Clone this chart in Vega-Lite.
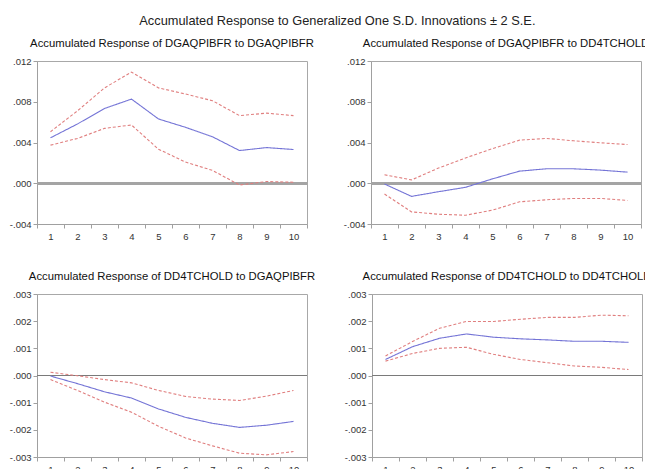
{
  "$schema": "https://vega.github.io/schema/vega-lite/v6.json",
  "padding": {"left": 8, "top": 15, "right": 0, "bottom": 0},
  "background": "white",
  "title": {
    "text": "Accumulated Response to Generalized One S.D. Innovations ± 2 S.E.",
    "fontSize": 12.8,
    "fontWeight": "normal",
    "font": "Liberation Sans",
    "color": "#222",
    "anchor": "middle",
    "dx": 7,
    "offset": 9
  },
  "config": {
    "font": "Liberation Sans",
    "view": {"stroke": "#a8a8a8", "strokeWidth": 1},
    "title": {"fontSize": 11.3, "fontWeight": "normal", "color": "#111", "offset": 7, "font": "Liberation Sans"},
    "axis": {
      "labelFont": "Liberation Sans",
      "labelFontSize": 9.5,
      "labelColor": "#333",
      "labelOverlap": false,
      "domainColor": "#a0a0a0",
      "tickColor": "#a0a0a0",
      "tickSize": 4,
      "tickCount": 12,
      "grid": false,
      "title": null
    }
  },
  "datasets": {
    "irf": [
      {"panel": 1, "step": 1, "band": "resp", "value": 0.00446},
      {"panel": 1, "step": 2, "band": "resp", "value": 0.00582},
      {"panel": 1, "step": 3, "band": "resp", "value": 0.00734},
      {"panel": 1, "step": 4, "band": "resp", "value": 0.00826},
      {"panel": 1, "step": 5, "band": "resp", "value": 0.00631},
      {"panel": 1, "step": 6, "band": "resp", "value": 0.00549},
      {"panel": 1, "step": 7, "band": "resp", "value": 0.00456},
      {"panel": 1, "step": 8, "band": "resp", "value": 0.00321},
      {"panel": 1, "step": 9, "band": "resp", "value": 0.00350},
      {"panel": 1, "step": 10, "band": "resp", "value": 0.00331},
      {"panel": 1, "step": 1, "band": "upper", "value": 0.00506},
      {"panel": 1, "step": 2, "band": "upper", "value": 0.00711},
      {"panel": 1, "step": 3, "band": "upper", "value": 0.00936},
      {"panel": 1, "step": 4, "band": "upper", "value": 0.01091},
      {"panel": 1, "step": 5, "band": "upper", "value": 0.00936},
      {"panel": 1, "step": 6, "band": "upper", "value": 0.00876},
      {"panel": 1, "step": 7, "band": "upper", "value": 0.00810},
      {"panel": 1, "step": 8, "band": "upper", "value": 0.00664},
      {"panel": 1, "step": 9, "band": "upper", "value": 0.00688},
      {"panel": 1, "step": 10, "band": "upper", "value": 0.00664},
      {"panel": 1, "step": 1, "band": "lower", "value": 0.00374},
      {"panel": 1, "step": 2, "band": "lower", "value": 0.00440},
      {"panel": 1, "step": 3, "band": "lower", "value": 0.00539},
      {"panel": 1, "step": 4, "band": "lower", "value": 0.00572},
      {"panel": 1, "step": 5, "band": "lower", "value": 0.00334},
      {"panel": 1, "step": 6, "band": "lower", "value": 0.00208},
      {"panel": 1, "step": 7, "band": "lower", "value": 0.00126},
      {"panel": 1, "step": 8, "band": "lower", "value": -0.00017},
      {"panel": 1, "step": 9, "band": "lower", "value": 0.00017},
      {"panel": 1, "step": 10, "band": "lower", "value": 0.00010},

      {"panel": 2, "step": 1, "band": "resp", "value": -0.00007},
      {"panel": 2, "step": 2, "band": "resp", "value": -0.00129},
      {"panel": 2, "step": 3, "band": "resp", "value": -0.00083},
      {"panel": 2, "step": 4, "band": "resp", "value": -0.00040},
      {"panel": 2, "step": 5, "band": "resp", "value": 0.00043},
      {"panel": 2, "step": 6, "band": "resp", "value": 0.00119},
      {"panel": 2, "step": 7, "band": "resp", "value": 0.00142},
      {"panel": 2, "step": 8, "band": "resp", "value": 0.00142},
      {"panel": 2, "step": 9, "band": "resp", "value": 0.00129},
      {"panel": 2, "step": 10, "band": "resp", "value": 0.00109},
      {"panel": 2, "step": 1, "band": "upper", "value": 0.00083},
      {"panel": 2, "step": 2, "band": "upper", "value": 0.00033},
      {"panel": 2, "step": 3, "band": "upper", "value": 0.00149},
      {"panel": 2, "step": 4, "band": "upper", "value": 0.00248},
      {"panel": 2, "step": 5, "band": "upper", "value": 0.00340},
      {"panel": 2, "step": 6, "band": "upper", "value": 0.00423},
      {"panel": 2, "step": 7, "band": "upper", "value": 0.00440},
      {"panel": 2, "step": 8, "band": "upper", "value": 0.00417},
      {"panel": 2, "step": 9, "band": "upper", "value": 0.00397},
      {"panel": 2, "step": 10, "band": "upper", "value": 0.00380},
      {"panel": 2, "step": 1, "band": "lower", "value": -0.00106},
      {"panel": 2, "step": 2, "band": "lower", "value": -0.00281},
      {"panel": 2, "step": 3, "band": "lower", "value": -0.00304},
      {"panel": 2, "step": 4, "band": "lower", "value": -0.00314},
      {"panel": 2, "step": 5, "band": "lower", "value": -0.00264},
      {"panel": 2, "step": 6, "band": "lower", "value": -0.00182},
      {"panel": 2, "step": 7, "band": "lower", "value": -0.00162},
      {"panel": 2, "step": 8, "band": "lower", "value": -0.00149},
      {"panel": 2, "step": 9, "band": "lower", "value": -0.00149},
      {"panel": 2, "step": 10, "band": "lower", "value": -0.00169},

      {"panel": 3, "step": 1, "band": "resp", "value": -0.00002},
      {"panel": 3, "step": 2, "band": "resp", "value": -0.00030},
      {"panel": 3, "step": 3, "band": "resp", "value": -0.00060},
      {"panel": 3, "step": 4, "band": "resp", "value": -0.00083},
      {"panel": 3, "step": 5, "band": "resp", "value": -0.00123},
      {"panel": 3, "step": 6, "band": "resp", "value": -0.00154},
      {"panel": 3, "step": 7, "band": "resp", "value": -0.00176},
      {"panel": 3, "step": 8, "band": "resp", "value": -0.00191},
      {"panel": 3, "step": 9, "band": "resp", "value": -0.00183},
      {"panel": 3, "step": 10, "band": "resp", "value": -0.00169},
      {"panel": 3, "step": 1, "band": "upper", "value": 0.00012},
      {"panel": 3, "step": 2, "band": "upper", "value": -0.00001},
      {"panel": 3, "step": 3, "band": "upper", "value": -0.00015},
      {"panel": 3, "step": 4, "band": "upper", "value": -0.00027},
      {"panel": 3, "step": 5, "band": "upper", "value": -0.00055},
      {"panel": 3, "step": 6, "band": "upper", "value": -0.00077},
      {"panel": 3, "step": 7, "band": "upper", "value": -0.00087},
      {"panel": 3, "step": 8, "band": "upper", "value": -0.00092},
      {"panel": 3, "step": 9, "band": "upper", "value": -0.00076},
      {"panel": 3, "step": 10, "band": "upper", "value": -0.00055},
      {"panel": 3, "step": 1, "band": "lower", "value": -0.00015},
      {"panel": 3, "step": 2, "band": "lower", "value": -0.00055},
      {"panel": 3, "step": 3, "band": "lower", "value": -0.00098},
      {"panel": 3, "step": 4, "band": "lower", "value": -0.00135},
      {"panel": 3, "step": 5, "band": "lower", "value": -0.00187},
      {"panel": 3, "step": 6, "band": "lower", "value": -0.00230},
      {"panel": 3, "step": 7, "band": "lower", "value": -0.00259},
      {"panel": 3, "step": 8, "band": "lower", "value": -0.00286},
      {"panel": 3, "step": 9, "band": "lower", "value": -0.00292},
      {"panel": 3, "step": 10, "band": "lower", "value": -0.00280},

      {"panel": 4, "step": 1, "band": "resp", "value": 0.00059},
      {"panel": 4, "step": 2, "band": "resp", "value": 0.00106},
      {"panel": 4, "step": 3, "band": "resp", "value": 0.00137},
      {"panel": 4, "step": 4, "band": "resp", "value": 0.00153},
      {"panel": 4, "step": 5, "band": "resp", "value": 0.00141},
      {"panel": 4, "step": 6, "band": "resp", "value": 0.00135},
      {"panel": 4, "step": 7, "band": "resp", "value": 0.00131},
      {"panel": 4, "step": 8, "band": "resp", "value": 0.00126},
      {"panel": 4, "step": 9, "band": "resp", "value": 0.00126},
      {"panel": 4, "step": 10, "band": "resp", "value": 0.00122},
      {"panel": 4, "step": 1, "band": "upper", "value": 0.00072},
      {"panel": 4, "step": 2, "band": "upper", "value": 0.00125},
      {"panel": 4, "step": 3, "band": "upper", "value": 0.00174},
      {"panel": 4, "step": 4, "band": "upper", "value": 0.00199},
      {"panel": 4, "step": 5, "band": "upper", "value": 0.00199},
      {"panel": 4, "step": 6, "band": "upper", "value": 0.00207},
      {"panel": 4, "step": 7, "band": "upper", "value": 0.00214},
      {"panel": 4, "step": 8, "band": "upper", "value": 0.00214},
      {"panel": 4, "step": 9, "band": "upper", "value": 0.00222},
      {"panel": 4, "step": 10, "band": "upper", "value": 0.00220},
      {"panel": 4, "step": 1, "band": "lower", "value": 0.00053},
      {"panel": 4, "step": 2, "band": "lower", "value": 0.00081},
      {"panel": 4, "step": 3, "band": "lower", "value": 0.00100},
      {"panel": 4, "step": 4, "band": "lower", "value": 0.00104},
      {"panel": 4, "step": 5, "band": "lower", "value": 0.00078},
      {"panel": 4, "step": 6, "band": "lower", "value": 0.00059},
      {"panel": 4, "step": 7, "band": "lower", "value": 0.00047},
      {"panel": 4, "step": 8, "band": "lower", "value": 0.00035},
      {"panel": 4, "step": 9, "band": "lower", "value": 0.00030},
      {"panel": 4, "step": 10, "band": "lower", "value": 0.00022}
    ]
  },
  "spacing": 29,
  "vconcat": [
    {
      "spacing": 27,
      "hconcat": [
        {
          "title": "Accumulated Response of DGAQPIBFR to DGAQPIBFR",
          "width": 270, "height": 163,
          "data": {"name": "irf"},
          "transform": [{"filter": "datum.panel == 1"}],
          "layer": [
            {"mark": {"type": "rule", "color": "#a4a4a4", "strokeWidth": 1.8}, "encoding": {"y": {"datum": 0, "type": "quantitative"}}},
            {"mark": {"type": "line", "strokeWidth": 1.1},
             "encoding": {
               "x": {"field": "step", "type": "ordinal", "scale": {"type": "band", "paddingInner": 0, "paddingOuter": 0}, "axis": {"labelAngle": 0, "tickBand": "extent", "labelPadding": 3}},
               "y": {"field": "value", "type": "quantitative", "scale": {"domain": [-0.004, 0.012], "nice": false, "zero": false}, "axis": {"values": [-0.004, 0, 0.004, 0.008, 0.012], "labelExpr": "replace(replace(format(datum.value, '.3f'), '0.', '.'), '\u2212', '-')"}},
               "detail": {"field": "band"},
               "color": {"field": "band", "scale": {"domain": ["resp", "upper", "lower"], "range": ["#7474d6", "#e07f7f", "#e07f7f"]}, "legend": null},
               "strokeDash": {"field": "band", "scale": {"domain": ["resp", "upper", "lower"], "range": [[1, 0], [3, 2], [3, 2]]}, "legend": null}
             }}
          ]
        },
        {
          "title": "Accumulated Response of DGAQPIBFR to DD4TCHOLD",
          "width": 270, "height": 163,
          "data": {"name": "irf"},
          "transform": [{"filter": "datum.panel == 2"}],
          "layer": [
            {"mark": {"type": "rule", "color": "#a4a4a4", "strokeWidth": 1.8}, "encoding": {"y": {"datum": 0, "type": "quantitative"}}},
            {"mark": {"type": "line", "strokeWidth": 1.1},
             "encoding": {
               "x": {"field": "step", "type": "ordinal", "scale": {"type": "band", "paddingInner": 0, "paddingOuter": 0}, "axis": {"labelAngle": 0, "tickBand": "extent", "labelPadding": 3}},
               "y": {"field": "value", "type": "quantitative", "scale": {"domain": [-0.004, 0.012], "nice": false, "zero": false}, "axis": {"values": [-0.004, 0, 0.004, 0.008, 0.012], "labelExpr": "replace(replace(format(datum.value, '.3f'), '0.', '.'), '\u2212', '-')"}},
               "detail": {"field": "band"},
               "color": {"field": "band", "scale": {"domain": ["resp", "upper", "lower"], "range": ["#7474d6", "#e07f7f", "#e07f7f"]}, "legend": null},
               "strokeDash": {"field": "band", "scale": {"domain": ["resp", "upper", "lower"], "range": [[1, 0], [3, 2], [3, 2]]}, "legend": null}
             }}
          ]
        }
      ]
    },
    {
      "spacing": 27,
      "hconcat": [
        {
          "title": "Accumulated Response of DD4TCHOLD to DGAQPIBFR",
          "width": 270, "height": 163,
          "data": {"name": "irf"},
          "transform": [{"filter": "datum.panel == 3"}],
          "layer": [
            {"mark": {"type": "rule", "color": "#7a7a7a", "strokeWidth": 1}, "encoding": {"y": {"datum": 0, "type": "quantitative"}}},
            {"mark": {"type": "line", "strokeWidth": 1.1},
             "encoding": {
               "x": {"field": "step", "type": "ordinal", "scale": {"type": "band", "paddingInner": 0, "paddingOuter": 0}, "axis": {"labelAngle": 0, "tickBand": "extent", "labelPadding": 3}},
               "y": {"field": "value", "type": "quantitative", "scale": {"domain": [-0.003, 0.003], "nice": false, "zero": false}, "axis": {"values": [-0.003, -0.002, -0.001, 0, 0.001, 0.002, 0.003], "tickCount": 12, "labelExpr": "replace(replace(format(datum.value, '.3f'), '0.', '.'), '\u2212', '-')"}},
               "detail": {"field": "band"},
               "color": {"field": "band", "scale": {"domain": ["resp", "upper", "lower"], "range": ["#7474d6", "#e07f7f", "#e07f7f"]}, "legend": null},
               "strokeDash": {"field": "band", "scale": {"domain": ["resp", "upper", "lower"], "range": [[1, 0], [3, 2], [3, 2]]}, "legend": null}
             }}
          ]
        },
        {
          "title": "Accumulated Response of DD4TCHOLD to DD4TCHOLD",
          "width": 270, "height": 163,
          "data": {"name": "irf"},
          "transform": [{"filter": "datum.panel == 4"}],
          "layer": [
            {"mark": {"type": "rule", "color": "#7a7a7a", "strokeWidth": 1}, "encoding": {"y": {"datum": 0, "type": "quantitative"}}},
            {"mark": {"type": "line", "strokeWidth": 1.1},
             "encoding": {
               "x": {"field": "step", "type": "ordinal", "scale": {"type": "band", "paddingInner": 0, "paddingOuter": 0}, "axis": {"labelAngle": 0, "tickBand": "extent", "labelPadding": 3}},
               "y": {"field": "value", "type": "quantitative", "scale": {"domain": [-0.003, 0.003], "nice": false, "zero": false}, "axis": {"values": [-0.003, -0.002, -0.001, 0, 0.001, 0.002, 0.003], "tickCount": 12, "labelExpr": "replace(replace(format(datum.value, '.3f'), '0.', '.'), '\u2212', '-')"}},
               "detail": {"field": "band"},
               "color": {"field": "band", "scale": {"domain": ["resp", "upper", "lower"], "range": ["#7474d6", "#e07f7f", "#e07f7f"]}, "legend": null},
               "strokeDash": {"field": "band", "scale": {"domain": ["resp", "upper", "lower"], "range": [[1, 0], [3, 2], [3, 2]]}, "legend": null}
             }}
          ]
        }
      ]
    }
  ]
}
